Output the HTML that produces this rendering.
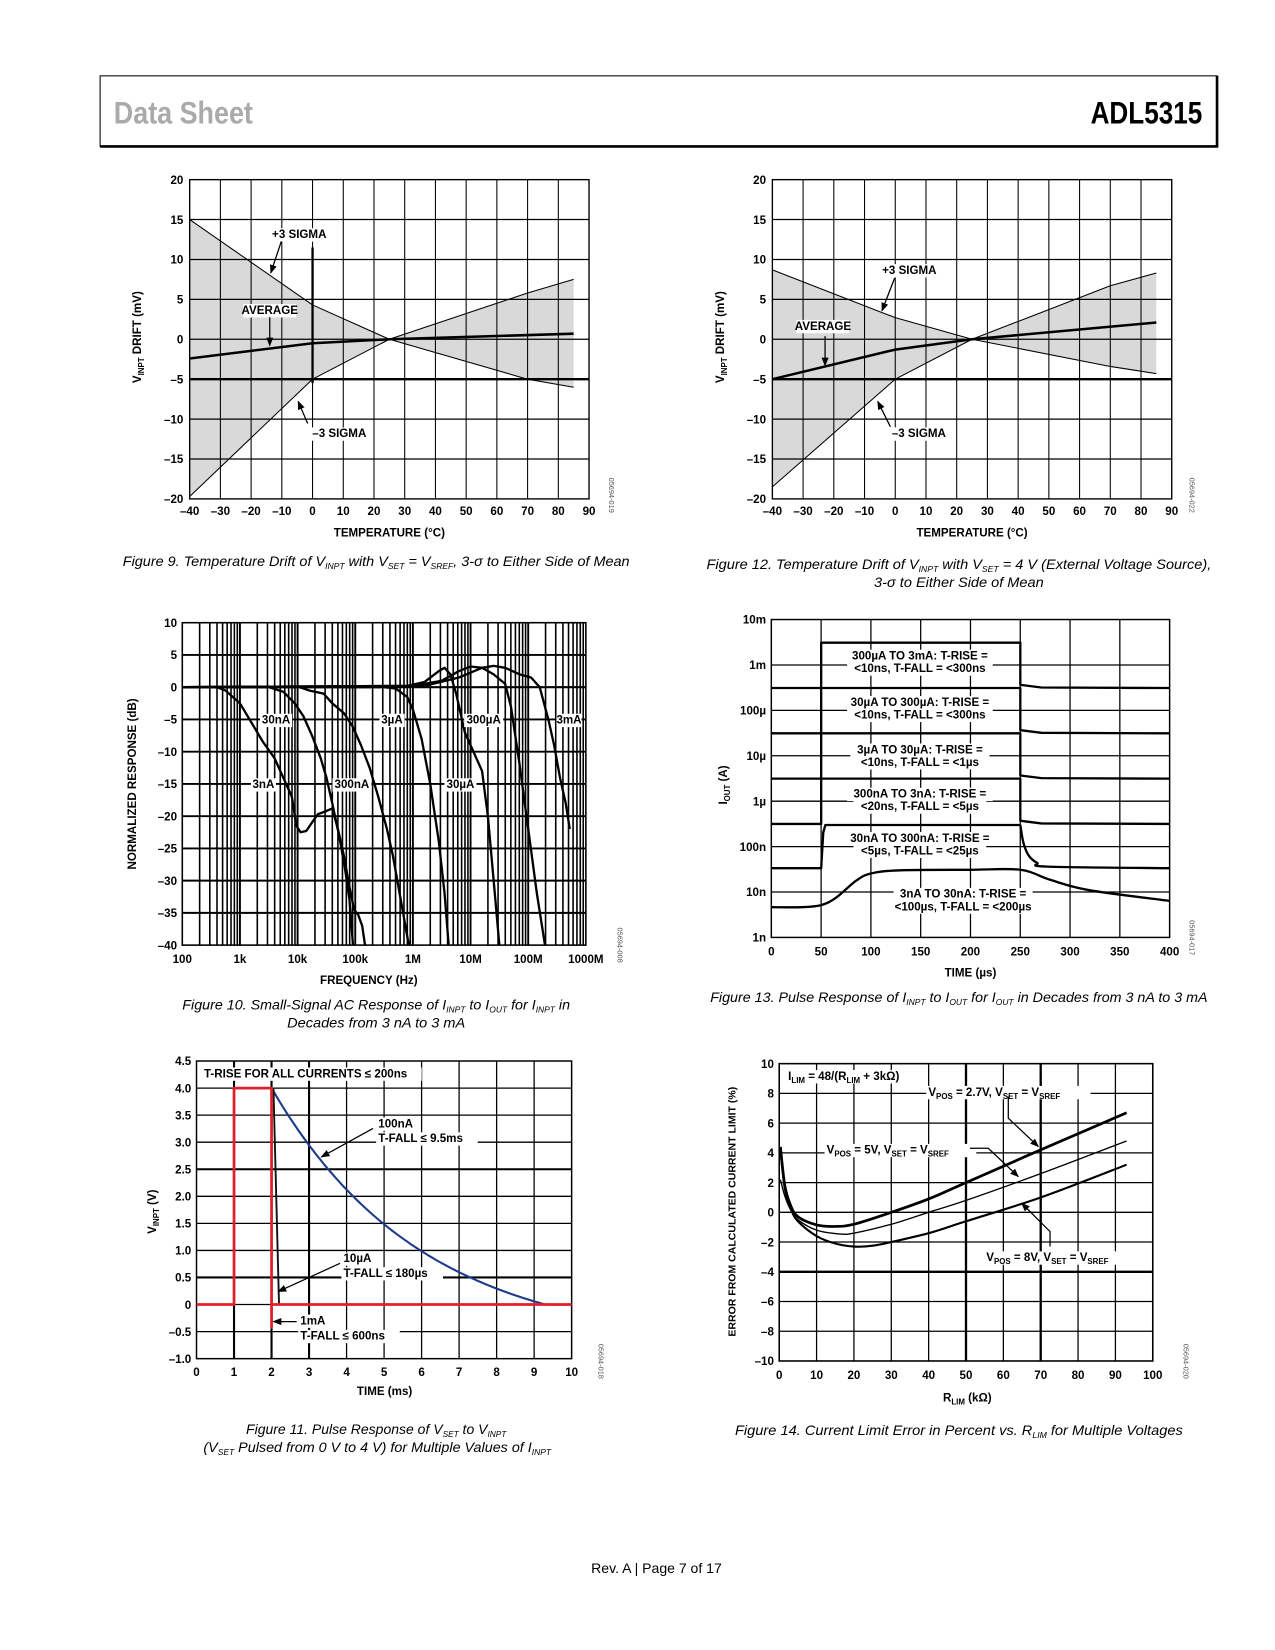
<!DOCTYPE html>
<html><head><meta charset="utf-8"><style>
html,body{margin:0;padding:0;background:#fff}
svg{display:block;font-family:"Liberation Sans",sans-serif}
</style></head><body>
<svg id="s" width="1275" height="1650" viewBox="0 0 1210 1566" preserveAspectRatio="none" xmlns="http://www.w3.org/2000/svg">
<defs><marker id="ah" viewBox="0 0 10 10" refX="9" refY="5" markerWidth="7" markerHeight="7" orient="auto-start-reverse"><path d="M0,1 L10,5 L0,9 z" fill="#000"/></marker></defs>
<g id="g"></g>
</svg>
<script>
let s='';
const L=(x1,y1,x2,y2,w=1,c='#000')=>{s+=`<line x1="${x1}" y1="${y1}" x2="${x2}" y2="${y2}" stroke="${c}" stroke-width="${w}"/>`;};
const T=(x,y,t,o={})=>{
 const fs=o.fs||11;
 if(o.bg){const w=o.bw||(o.plain||t).length*fs*0.6;const x0=o.a==='start'?x-2:(o.a==='end'?x-w-2:x-w/2-2);s+=`<rect x="${x0}" y="${y-fs*0.85}" width="${w+4}" height="${fs*1.15}" fill="#fff"/>`;}
 s+=`<text x="${x}" y="${y}" font-size="${fs}" font-weight="${o.fw||'bold'}" text-anchor="${o.a||'middle'}" ${o.fill?`fill="${o.fill}"`:''} ${o.st?`font-style="${o.st}"`:''} ${o.tl?`textLength="${o.tl}" lengthAdjust="spacingAndGlyphs"`:''} ${o.tr?`transform="${o.tr}"`:''}>${t}</text>`;};
const sub=(t,f=7.5)=>`<tspan font-size="${f}" baseline-shift="-2.5">${t}</tspan>`;
const P=(d,w=1.5,c='#000',f='none')=>{s+=`<path d="${d}" stroke="${c}" stroke-width="${w}" fill="${f}" stroke-linejoin="round"/>`;};
const poly=pts=>'M'+pts.map(p=>p[0].toFixed(1)+','+p[1].toFixed(1)).join(' L');
function smooth(Q){let d=`M${Q[0][0].toFixed(1)},${Q[0][1].toFixed(1)}`;for(let i=0;i<Q.length-1;i++){const p0=Q[i-1]||Q[i],p1=Q[i],p2=Q[i+1],p3=Q[i+2]||p2;d+=` C${(p1[0]+(p2[0]-p0[0])/6).toFixed(1)},${(p1[1]+(p2[1]-p0[1])/6).toFixed(1)} ${(p2[0]-(p3[0]-p1[0])/6).toFixed(1)},${(p2[1]-(p3[1]-p1[1])/6).toFixed(1)} ${p2[0].toFixed(1)},${p2[1].toFixed(1)}`;}return d;}
const AR=(pts,w=1.2)=>{s+=`<path d="${poly(pts)}" stroke="#000" stroke-width="${w}" fill="none" marker-end="url(#ah)"/>`;};
const RT=(x,y,t,fs=11)=>T(x,y,t,{fs,tr:`rotate(-90 ${x} ${y})`});
const ID=(x,y,t)=>T(x,y,t,{fs:7,fw:'normal',fill:'#555',tr:`rotate(90 ${x} ${y})`});

// header
s+=`<rect x="95" y="72" width="1060" height="67" fill="none" stroke="#000" stroke-width="1"/>`;
L(95,139,1156,139,2.5);L(1155,72,1155,140,2.5);
T(108,117,'Data Sheet',{fs:30,a:'start',fill:'#aaa',tl:132});
T(1141,117,'ADL5315',{fs:30,a:'end',tl:106});

function drift(X0,X1,p3,m3,av,lbl,thick0){
 const Y0=170.5,Y1=473.5;
 const mx=t=>X0+(t+40)/130*(X1-X0), my=v=>Y0+(20-v)/40*(Y1-Y0);
 const A=p3.map(p=>[mx(p[0]),my(p[1])]),B=m3.map(p=>[mx(p[0]),my(p[1])]);
 s+=`<path d="${poly(A.concat(B.slice().reverse()))} Z" fill="#d9d9d9" stroke="none"/>`;
 for(let t=-30;t<90;t+=10)L(mx(t),Y0,mx(t),Y1,1);
 for(let v=-15;v<20;v+=5)L(X0,my(v),X1,my(v),v==-5?2.2:1.2);
 if(thick0)L(mx(0),my(11.5),mx(0),my(-5.5),2.2);
 s+=`<rect x="${X0}" y="${Y0}" width="${X1-X0}" height="${Y1-Y0}" fill="none" stroke="#000" stroke-width="1.3"/>`;
 P(poly(A),1);P(poly(B),1);P(poly(av.map(p=>[mx(p[0]),my(p[1])])),2.4);
 for(let v=-20;v<=20;v+=5)T(X0-6,my(v)+4,(v<0?'–'+(-v):v),{a:'end'});
 for(let t=-40;t<=90;t+=10)T(mx(t),489,(t<0?'–'+(-t):t));
 T((X0+X1)/2,509,'TEMPERATURE (°C)');
 RT(X0-46,320,'V'+sub('INPT')+' DRIFT (mV)');
 lbl();
}
drift(180,559,[[-40,15],[0,4.3],[25,0],[70,-5],[85,-6]],[[-40,-19.7],[0,-5],[25,0],[70,5.8],[85,7.5]],[[-40,-2.4],[0,-0.5],[25,0],[85,0.7]],()=>{
 T(284,226,'+3 SIGMA',{bg:1});T(256,298,'AVERAGE',{bg:1});T(322,415,'–3 SIGMA',{bg:1});
 AR([[267,229],[257,259]]);AR([[256,301],[256,328]]);AR([[292,402],[283,381]]);
 ID(578,470,'05694-019');},true);
drift(733,1112,[[-40,8.7],[0,2.7],[25,0],[70,-3.4],[85,-4.3]],[[-40,-18.5],[0,-5],[25,0],[70,6.7],[85,8.3]],[[-40,-5],[0,-1.3],[25,0],[85,2.1]],()=>{
 T(863,260,'+3 SIGMA',{bg:1});T(781,313,'AVERAGE',{bg:1});T(872,415,'–3 SIGMA',{bg:1});
 AR([[849,264],[837,295]]);AR([[783,319],[783,347]]);AR([[845,405],[833,381]]);
 ID(1129,470,'05694-022');},false);
T(357,537,'Figure 9. Temperature Drift of V'+sub('INPT',8)+' with V'+sub('SET',8)+' = V'+sub('SREF',8)+', 3-σ to Either Side of Mean',{fs:13.5,fw:'normal',st:'italic',tl:481});
T(910,540,'Figure 12. Temperature Drift of V'+sub('INPT',8)+' with V'+sub('SET',8)+' = 4 V (External Voltage Source),',{fs:13.5,fw:'normal',st:'italic',tl:479});
T(910,557,'3-σ to Either Side of Mean',{fs:13.5,fw:'normal',st:'italic',tl:161});

// Fig 10
(function(){
 const X0=173,X1=556,Y0=591,Y1=897,D=(X1-X0)/7;
 const mx=u=>X0+u*D,my=d=>Y0+(10-d)/50*(Y1-Y0);
 for(let k=0;k<7;k++)for(let m=1;m<=9;m++){if(k==0&&m==1)continue;L(mx(k+Math.log10(m)),Y0,mx(k+Math.log10(m)),Y1,m==1?1.8:1.5);}
 for(let d=-35;d<10;d+=5)L(X0,my(d),X1,my(d),d==0?2:1.8);
 s+=`<rect x="${X0}" y="${Y0}" width="${X1-X0}" height="${Y1-Y0}" fill="none" stroke="#000" stroke-width="1.5"/>`;
 const C=[
 [[0,0],[0.6,0],[0.75,-0.5],[1.0,-2.5],[1.2,-5.5],[1.4,-8.5],[1.6,-11],[1.75,-14],[1.9,-17],[1.98,-21.5],[2.05,-22.5],[2.15,-22.3],[2.25,-21],[2.35,-19.7],[2.5,-19.2],[2.6,-18.8],[2.7,-22],[2.8,-26],[2.9,-31],[2.98,-34.5],[3.05,-35.3],[3.12,-37],[3.17,-40]],
 [[0,0],[1.5,0],[1.75,-0.7],[1.95,-2.5],[2.1,-4.5],[2.25,-7.5],[2.4,-11],[2.5,-14],[2.6,-18],[2.72,-23],[2.82,-28],[2.9,-33],[2.96,-40]],
 [[0,0],[2.0,0.1],[2.2,-0.5],[2.45,-1],[2.6,-2.5],[2.8,-4],[2.95,-6],[3.1,-9],[3.25,-12.5],[3.4,-17],[3.55,-22],[3.65,-26],[3.75,-31],[3.85,-36],[3.93,-40]],
 [[0,0],[3.5,0],[3.7,-0.2],[3.9,-1.5],[4.0,-3.5],[4.15,-8],[4.3,-15],[4.45,-24],[4.55,-32],[4.62,-40]],
 [[0,0],[3.9,0.2],[4.2,0.8],[4.45,2.5],[4.55,3],[4.65,2],[4.75,-1],[4.9,-7],[5.05,-10],[5.2,-13],[5.3,-20],[5.4,-30],[5.5,-40]],
 [[0,0],[4,0.2],[4.5,1],[4.8,2.5],[5.0,3.2],[5.2,3],[5.4,2],[5.6,0.5],[5.7,-3],[5.85,-12],[6.0,-22],[6.15,-32],[6.29,-40]],
 [[0,0],[4.2,0.2],[4.8,1.5],[5.2,3],[5.4,3.3],[5.6,3],[5.85,2],[6.05,1.5],[6.2,0],[6.35,-5],[6.45,-9],[6.55,-14],[6.65,-18],[6.72,-22]]];
 C.forEach(c=>P(poly(c.map(p=>[mx(p[0]),my(p[1])])),2.2));
 [['30nA',262,-5],['3µA',372,-5],['300µA',459,-5],['3mA',540,-5],['3nA',250,-15],['300nA',334,-15],['30µA',437,-15]].forEach(a=>T(a[1],my(a[2])+4,a[0],{bg:1}));
 for(let d=-40;d<=10;d+=5)T(X0-5,my(d)+4,d<0?'–'+(-d):d,{a:'end'});
 ['100','1k','10k','100k','1M','10M','100M','1000M'].forEach((l,i)=>T(mx(i),914,l));
 T(350,934,'FREQUENCY (Hz)');RT(129,744,'NORMALIZED RESPONSE (dB)');ID(586,897,'05694-008');
 T(357,958,'Figure 10. Small-Signal AC Response of I'+sub('INPT',8)+' to I'+sub('OUT',8)+' for I'+sub('INPT',8)+' in',{fs:13.5,fw:'normal',st:'italic',tl:368});
 T(357,975,'Decades from 3 nA to 3 mA',{fs:13.5,fw:'normal',st:'italic',tl:169});
})();

// Fig 13
(function(){
 const X0=732,X1=1110,Y0=588,Y1=889.7;
 const mx=t=>X0+t/400*(X1-X0),my=l=>Y0+(-2-l)*(Y1-Y0)/7;
 for(let t=50;t<400;t+=50)L(mx(t),Y0,mx(t),Y1,1.2);
 for(let l=-8;l<-2;l++)L(X0,my(l),X1,my(l),1.2);
 s+=`<rect x="${X0}" y="${Y0}" width="${X1-X0}" height="${Y1-Y0}" fill="none" stroke="#000" stroke-width="1.4"/>`;
 const a=mx(50),b=mx(250);
 [653,696,739,782].forEach(y=>{P(poly([[X0,y],[a,y],[a,y-43],[b,y-43],[b,y-3],[b+4,y-2.5],[b+20,y-0.5],[X1,y]]),2.2);});
 // 30n
 P(poly([[X0,824],[a,824],[a+2,790],[a+4,783],[b,783]]),2.2);
 P(smooth([[b,783],[b+3,800],[b+8,812],[b+16,819],[b+26,822.5],[X1,824]]),2.2);
 // 3n
 P(smooth([[X0,861],[mx(30),861],[mx(50),859],[mx(65),852],[mx(85),836],[mx(100),829],[mx(130),826],[mx(200),825.5],[mx(250),825.5],[mx(280),835],[mx(320),845],[mx(400),855]]),2.2);
 const lb=[['300µA TO 3mA: T-RISE =','&lt;10ns, T-FALL = &lt;300ns',622],['30µA TO 300µA: T-RISE =','&lt;10ns, T-FALL = &lt;300ns',666],['3µA TO 30µA: T-RISE =','&lt;10ns, T-FALL = &lt;1µs',711],['300nA TO 3nA: T-RISE =','&lt;20ns, T-FALL = &lt;5µs',753],['30nA TO 300nA: T-RISE =','&lt;5µs, T-FALL = &lt;25µs',795]];
 lb.forEach(q=>{T(873,q[2]+4,q[0],{bg:1,bw:q[0].length*6.1});T(873,q[2]+16,q[1],{bg:1,bw:q[1].replace(/&lt;/g,'<').length*6.1});});
 T(914,852,'3nA TO 30nA: T-RISE =',{bg:1,bw:128});T(914,864,'&lt;100µs, T-FALL = &lt;200µs',{bg:1,bw:150});
 ['10m','1m','100µ','10µ','1µ','100n','10n','1n'].forEach((l,i)=>T(X0-5,my(-2-i)+4,l,{a:'end'}));
 for(let t=0;t<=400;t+=50)T(mx(t),907,t);
 T(921,927,'TIME (µs)');RT(690,745,'I'+sub('OUT')+' (A)');ID(1129,890,'05694-017');
 T(910,951,'Figure 13. Pulse Response of I'+sub('INPT',8)+' to I'+sub('OUT',8)+' for I'+sub('OUT',8)+' in Decades from 3 nA to 3 mA',{fs:13.5,fw:'normal',st:'italic',tl:472});
})();

// Fig 11
(function(){
 const X0=186.5,X1=542.5,Y0=1007,Y1=1289.5;
 const mx=t=>X0+t/10*(X1-X0),my=v=>Y0+(4.5-v)/5.5*(Y1-Y0);
 for(let t=1;t<10;t++)L(mx(t),Y0,mx(t),Y1,t<=3?2:1.2);
 for(let v=-0.5;v<4.5;v+=0.5)L(X0,my(v),X1,my(v),(v==2.5||v==0.5)?2:1.2);
 s+=`<rect x="${X0}" y="${Y0}" width="${X1-X0}" height="${Y1-Y0}" fill="none" stroke="#000" stroke-width="1.4"/>`;
 const bl=[];for(let t=2;t<=9.3;t+=0.1)bl.push([mx(t),my(4.769*Math.exp(-(t-2)/4)-0.769)]);bl.push([mx(9.3),my(0)],[mx(10),my(0)]);
 P(poly(bl),2,'#1f3c8c');
 P(poly([[mx(2.05),my(4)],[mx(2.2),my(0)],[mx(10),my(0)]]),1.8,'#111');
 P(poly([[X0,my(0)],[mx(1),my(0)],[mx(1),my(4)],[mx(2),my(4)],[mx(2),my(-0.42)],[mx(2),my(0)],[X1,my(0)]]),2.6,'#e0202a');
 T(193.6,1022.5,'T-RISE FOR ALL CURRENTS ≤ 200ns',{a:'start',bg:1});
 T(359,1070,'100nA',{a:'start',bg:1});T(359,1084,'T-FALL ≤ 9.5ms',{a:'start',bg:1});
 T(326,1198,'10µA',{a:'start',bg:1});T(326,1212,'T-FALL ≤ 180µs',{a:'start',bg:1});
 T(285,1257,'1mA',{a:'start',bg:1});T(285,1271.5,'T-FALL ≤ 600ns',{a:'start',bg:1});
 AR([[354,1071],[305,1098]]);AR([[322.7,1199],[264,1225.8]]);AR([[281.5,1254.3],[259.4,1254.3]]);
 ['4.5','4.0','3.5','3.0','2.5','2.0','1.5','1.0','0.5','0','–0.5','–1.0'].forEach((l,i)=>T(X0-5,my(4.5-i*0.5)+4,l,{a:'end'}));
 for(let t=0;t<=10;t++)T(mx(t),1306,t);
 T(365,1324,'TIME (ms)');RT(148,1150,'V'+sub('INPT')+' (V)');ID(568,1292,'05694-018');
 T(357,1361,'Figure 11. Pulse Response of V'+sub('SET',8)+' to V'+sub('INPT',8),{fs:13.5,fw:'normal',st:'italic',tl:247});
 T(358,1378,'(V'+sub('SET',8)+' Pulsed from 0 V to 4 V) for Multiple Values of I'+sub('INPT',8),{fs:13.5,fw:'normal',st:'italic',tl:330});
})();

// Fig 14
(function(){
 const X0=739.5,X1=1094,Y0=1009.5,Y1=1291.7;
 const mx=r=>X0+r/100*(X1-X0),my=v=>Y0+(10-v)/20*(Y1-Y0);
 for(let r=10;r<100;r+=10)L(mx(r),Y0,mx(r),Y1,(r==50||r==70)?2.2:1.2);
 for(let v=-8;v<10;v+=2)L(X0,my(v),X1,my(v),v==-4?2.2:1.2);
 s+=`<rect x="${X0}" y="${Y0}" width="${X1-X0}" height="${Y1-Y0}" fill="none" stroke="#000" stroke-width="1.5"/>`;
 const m=c=>c.map(p=>[mx(p[0]),my(p[1])]);
 T(748,1025,'I'+sub('LIM')+' = 48/(R'+sub('LIM')+' + 3kΩ)',{a:'start',bg:1,bw:128});
 T(881,1040,'V'+sub('POS')+' = 2.7V, V'+sub('SET')+' = V'+sub('SREF'),{a:'start',bg:1,bw:152});
 T(784.5,1095,'V'+sub('POS')+' = 5V, V'+sub('SET')+' = V'+sub('SREF'),{a:'start',bg:1,bw:140});
 T(936,1197,'V'+sub('POS')+' = 8V, V'+sub('SET')+' = V'+sub('SREF'),{a:'start',bg:1,bw:140});
 P(smooth(m([[0.3,4.4],[1.5,1.8],[3,0.5],[5,-0.3],[10,-0.85],[15,-0.95],[20,-0.8],[30,0],[40,0.9],[50,2],[70,4.2],[93,6.7]])),2.6);
 P(smooth(m([[0.3,2.2],[1.5,1.1],[3,0.2],[5,-0.5],[10,-1.2],[16,-1.45],[20,-1.4],[30,-0.8],[40,0],[50,0.8],[70,2.6],[93,4.8]])),1.3);
 P(smooth(m([[0.3,4.2],[1.5,1.6],[3,0.3],[5,-0.6],[10,-1.6],[15,-2.1],[20,-2.3],[25,-2.25],[30,-2],[40,-1.4],[50,-0.6],[70,1],[93,3.2]])),2);
 AR([[956.9,1040.7],[956.9,1061.3],[985.4,1088.2]]);AR([[920.5,1089.8],[937.9,1089.8],[966.4,1116.7]]);AR([[996.5,1183.1],[996.5,1168.9],[969.6,1142]]);
 for(let v=-10;v<=10;v+=2)T(X0-5,my(v)+4,v<0?'–'+(-v):v,{a:'end'});
 for(let r=0;r<=100;r+=10)T(mx(r),1309,r);
 T(918,1330,'R'+sub('LIM')+' (kΩ)');RT(698,1150,'ERROR FROM CALCULATED CURRENT LIMIT (%)',10);ID(1123,1292,'05694-020');
 T(910,1362,'Figure 14. Current Limit Error in Percent vs. R'+sub('LIM',8)+' for Multiple Voltages',{fs:13.5,fw:'normal',st:'italic',tl:425});
})();
T(623,1493,'Rev. A | Page 7 of 17',{fs:13.5,fw:'normal',tl:124});
document.getElementById('g').innerHTML=s;
</script>
</body></html>
